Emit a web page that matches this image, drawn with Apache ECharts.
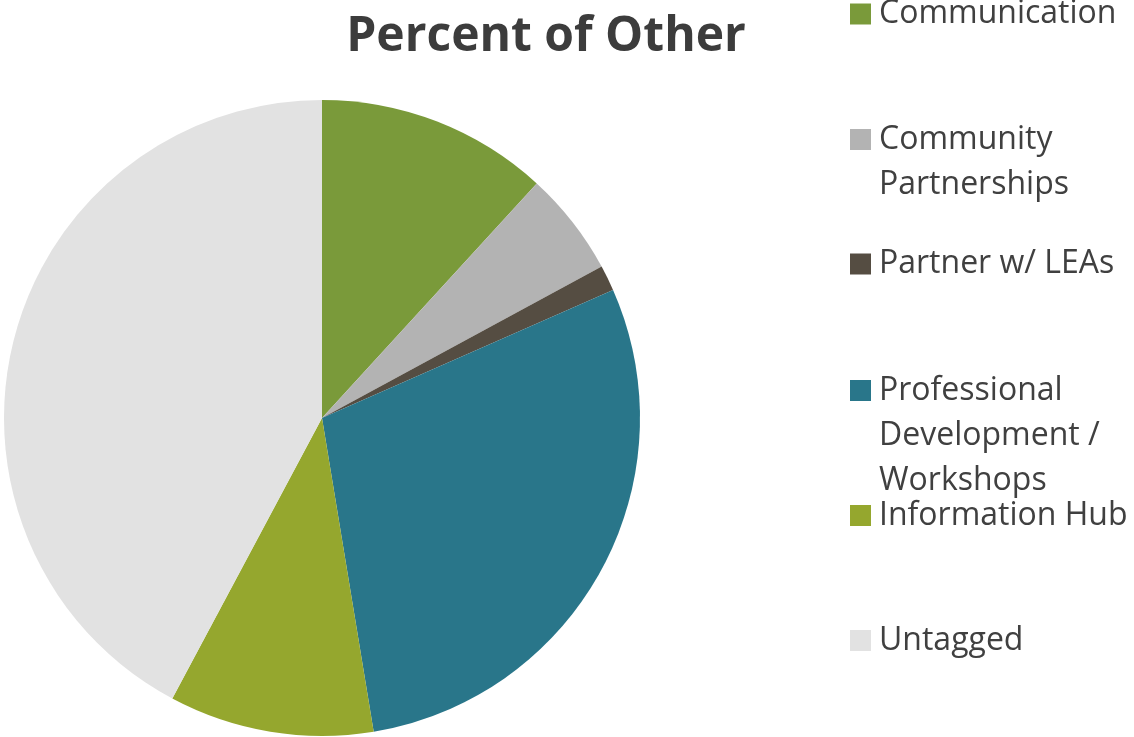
<!DOCTYPE html>
<html>
<head>
<meta charset="utf-8">
<title>Percent of Other</title>
<script src="https://cdn.jsdelivr.net/npm/echarts@6/dist/echarts.min.js"></script>
<style>
  html, body { margin: 0; padding: 0; background: #fff; }
  #chart { width: 1134px; height: 737px; }
</style>
</head>
<body>
<div id="chart"></div>
<script>
// slice names, values (percent) and colours, clockwise from 12 o'clock
const categories = [
  "Communication",
  "Community Partnerships",
  "Partner w/ LEAs",
  "Professional Development / Workshops",
  "Information Hub",
  "Untagged"
];
const values = [11.8, 5.3, 1.3, 29.0, 10.4, 42.2];
const colors = ["#7a9a3a", "#b3b3b3", "#554d42", "#29768a", "#95a72e", "#e2e2e2"];

// how each legend entry wraps, and where its swatch sits
const legendLines = [
  ["Communication"],
  ["Community", "Partnerships"],
  ["Partner w/ LEAs"],
  ["Professional", "Development /", "Workshops"],
  ["Information Hub"],
  ["Untagged"]
];
const legendCenters = [14, 139.5, 264, 390.5, 515.5, 640.5];

const lineH = 45;

let chart = echarts.init(document.getElementById("chart"));

// one legend per entry so the uneven Excel spacing can be kept;
// blank lines in front keep the swatch on the first text line
let legends = categories.map((name, i) => {
  let lines = legendLines[i];
  let n = lines.length * 2 - 1;
  return {
    data: [name],
    orient: "vertical",
    left: 850,
    top: legendCenters[i] - (n * lineH) / 2,
    padding: 0,
    icon: "rect",
    itemWidth: 21,
    itemHeight: 21,
    selectedMode: false,
    formatter: () => {
      let pad = [];
      for (let k = 1; k < lines.length; k++) pad.push("");
      return pad.concat(lines).join("\n");
    },
    textStyle: {
      fontFamily: "Open Sans",
      fontSize: 32,
      color: "#404040",
      lineHeight: lineH,
      padding: [0, 0, 0, 3]
    }
  };
});

let option = {
  animation: false,
  title: {
    text: "Percent of Other",
    left: 546,
    top: 13,
    textAlign: "center",
    padding: 0,
    textStyle: {
      fontFamily: "Open Sans",
      fontWeight: "bold",
      fontSize: 48,
      color: "#3c3c3c"
    }
  },
  legend: legends,
  series: [
    {
      name: "Percent of Other",
      type: "pie",
      center: [322, 418],
      radius: 318,
      startAngle: 90,
      clockwise: true,
      label: { show: false },
      labelLine: { show: false },
      emphasis: { disabled: true },
      data: categories.map((name, i) => ({
        name: name,
        value: values[i],
        itemStyle: { color: colors[i] }
      }))
    }
  ]
};

chart.setOption(option);
</script>
</body>
</html>
